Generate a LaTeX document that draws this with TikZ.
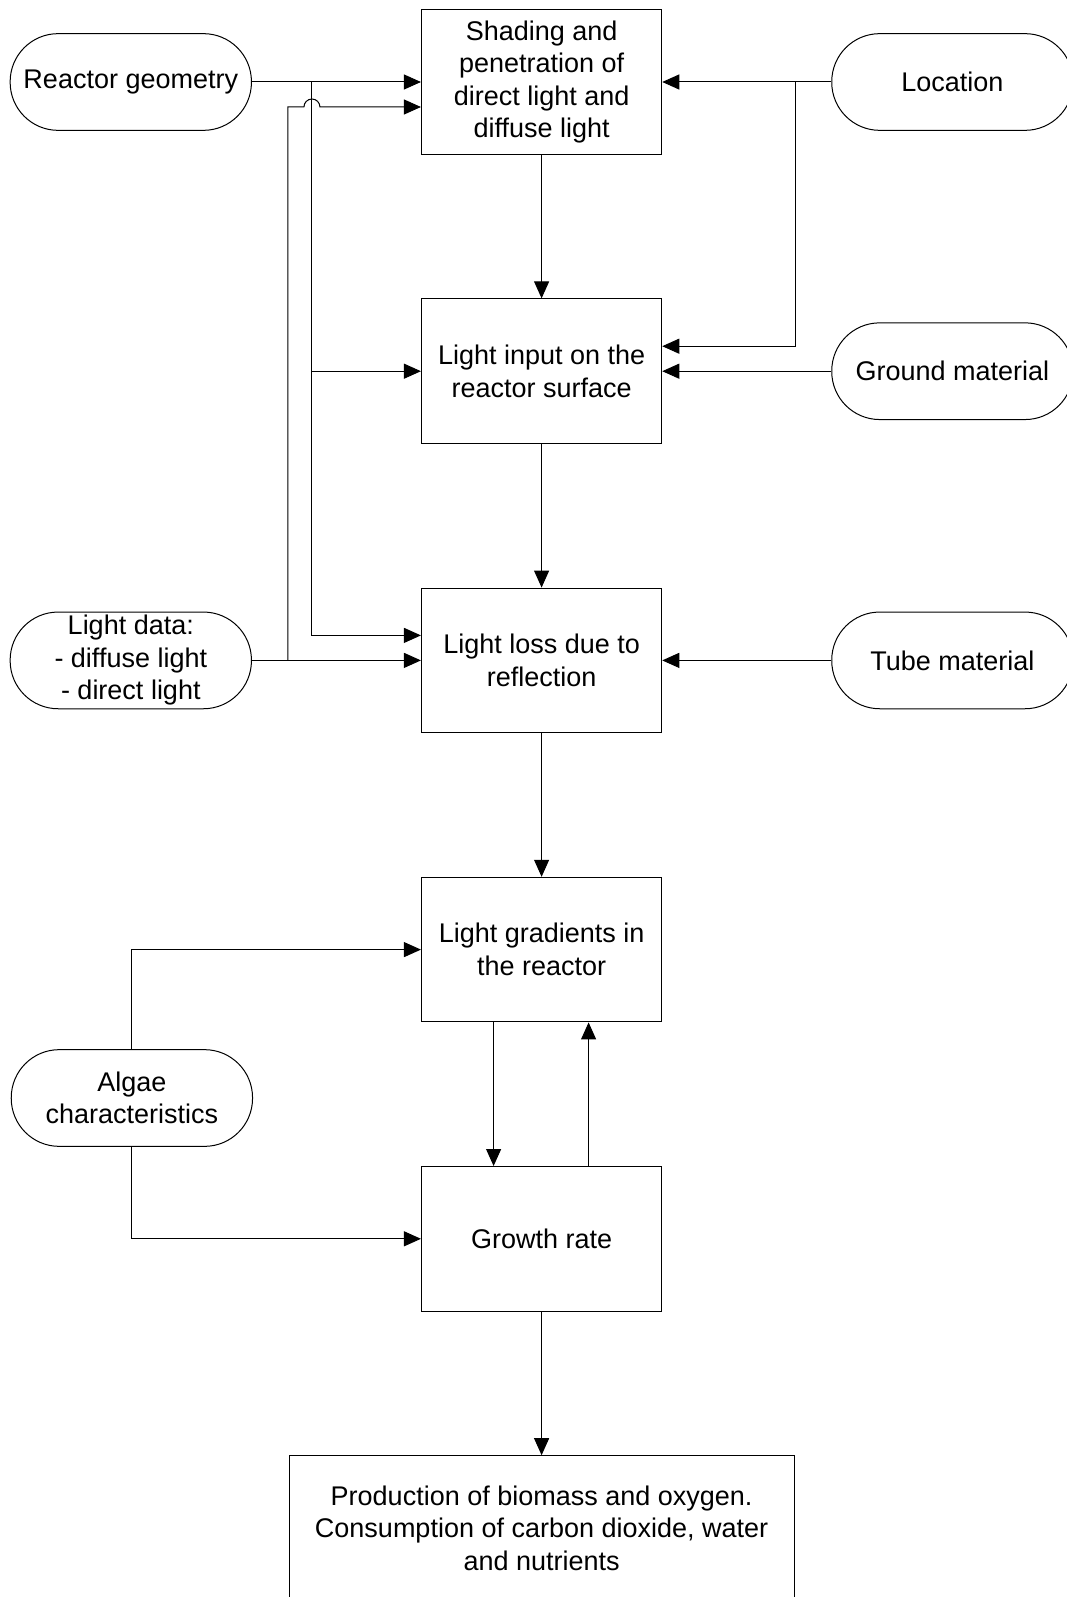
\documentclass[tikz,border=0pt]{standalone}
\usepackage{fontspec}
\setmainfont{Liberation Sans}
\usetikzlibrary{arrows.meta,positioning,calc}

\begin{document}
\begin{tikzpicture}[
  stepbox/.style={draw, line width=1pt, minimum width=240.3pt, minimum height=144.6pt, inner sep=2pt, align=center, font=\fontsize{27}{32.6}\selectfont},
  inbox/.style={draw, line width=1pt, rounded corners=48pt, minimum width=241.3pt, minimum height=96.7pt, inner sep=0pt, align=center, font=\fontsize{27}{32.6}\selectfont},
  arr/.style={-{Triangle[length=17pt,width=15pt]}, line width=1pt},
  node distance=143.6pt
]
  \clip (-541.6pt,82pt) rectangle (525.4pt,-1515pt);

  % main chain
  \node[stepbox] (shade) at (0,0) {Shading and\\penetration of\\direct light and\\diffuse light};
  \node[stepbox, below=of shade] (input) {Light input on the\\reactor surface};
  \node[stepbox, below=of input] (loss) {Light loss due to\\reflection};
  \node[stepbox, below=of loss] (grad) {Light gradients in\\the reactor};
  \node[stepbox, below=of grad] (growth) {Growth rate};
  \node[stepbox, below=of growth, minimum width=505pt] (prod) {Production of biomass and oxygen.\\Consumption of carbon dioxide, water\\and nutrients};

  % inputs
  \node[inbox, left=169pt of shade] (geom) {Reactor geometry};
  \node[inbox, right=169pt of shade] (loc) {Location};
  \node[inbox, right=169pt of input] (ground) {Ground material};
  \node[inbox, left=169pt of loss] (data) {Light data:\\- diffuse light\\- direct light};
  \node[inbox, right=169pt of loss] (tube) {Tube material};
  \node[inbox] (algae) at (-409.7pt,-1016pt) {Algae\\characteristics};

  \coordinate (tr1) at ([xshift=-109pt]shade.west);
  \coordinate (tr2) at ([xshift=-133pt,yshift=-25pt]shade.west);
  \coordinate (tr3) at ([xshift=133pt]shade.east);

  \draw[arr] (shade) -- (input);
  \draw[arr] (input) -- (loss);
  \draw[arr] (loss) -- (grad);
  \draw[arr] ([xshift=-48pt]grad.south) -- ([xshift=-48pt]growth.north);
  \draw[arr] ([xshift=47pt]growth.north) -- ([xshift=47pt]grad.south);
  \draw[arr] (growth) -- (prod);

  \draw[arr] (geom) -- (shade);
  \draw[arr] (tr1) |- (input.west);
  \draw[arr] (tr1) |- ([yshift=25pt]loss.west);
  \draw[arr] (data) -- (loss);
  \draw[arr] (data.east -| tr2) -- (tr2) -- ($(tr2 -| tr1)+(-8pt,0)$)
    arc[start angle=180, end angle=0, radius=8pt] -- (shade.west |- tr2);

  \draw[arr] (loc) -- (shade);
  \draw[arr] (tr3) |- ([yshift=25pt]input.east);
  \draw[arr] (ground) -- (input);
  \draw[arr] (tube) -- (loss);

  \draw[arr] (algae.north) |- (grad.west);
  \draw[arr] (algae.south) |- (growth.west);
\end{tikzpicture}
\end{document}
